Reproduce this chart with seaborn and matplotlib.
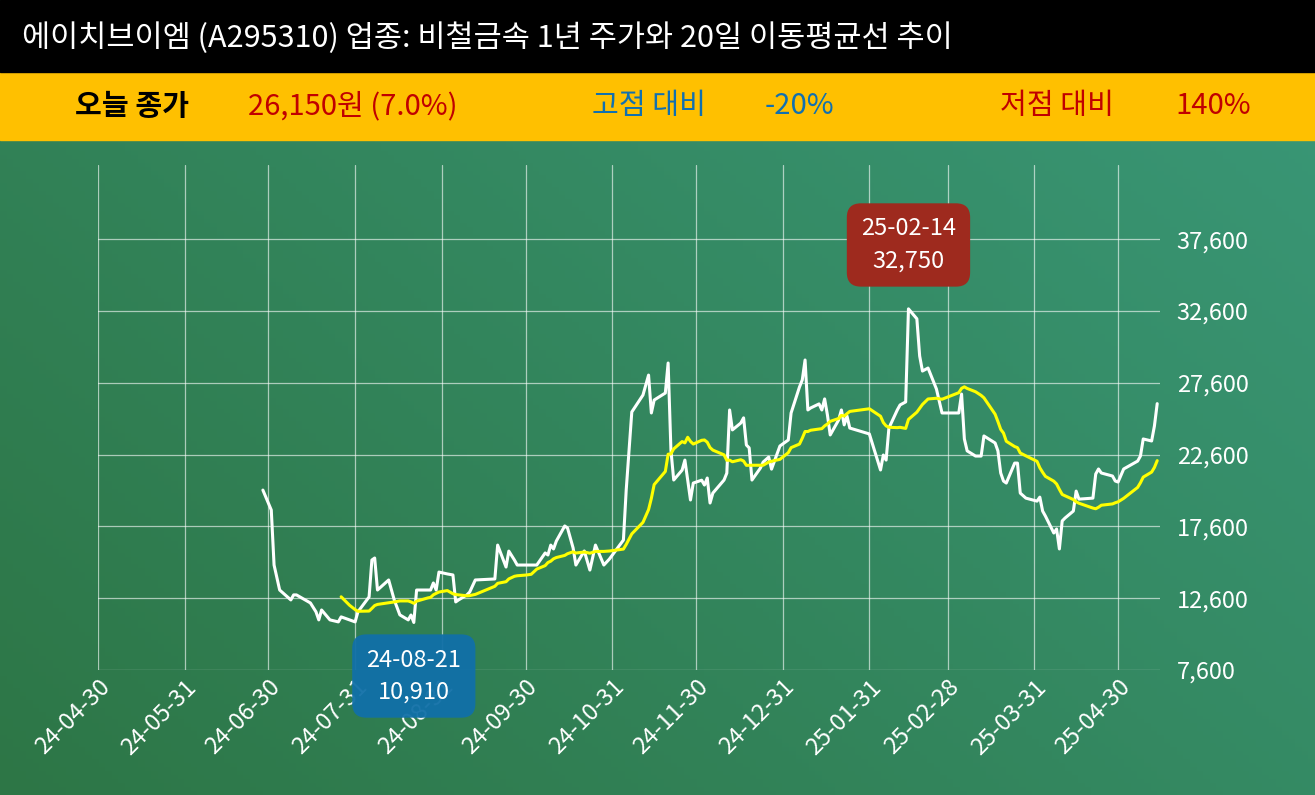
import numpy as np
import pandas as pd
import matplotlib.pyplot as plt
import matplotlib.dates as mdates
import seaborn as sns

sns.set_theme(style="white")
plt.rcParams['font.family'] = ['Noto Sans CJK KR', 'DejaVu Sans']

title = "에이치브이엠 (A295310) 업종: 비철금속 1년 주가와 20일 이동평균선 추이"

price_dates = [
    "2024-06-28", "2024-07-01", "2024-07-02", "2024-07-04", "2024-07-08", "2024-07-09", "2024-07-10",
    "2024-07-15", "2024-07-17", "2024-07-18", "2024-07-19", "2024-07-22", "2024-07-25", "2024-07-26",
    "2024-07-29", "2024-07-31", "2024-08-01", "2024-08-05", "2024-08-06", "2024-08-07", "2024-08-08",
    "2024-08-12", "2024-08-14", "2024-08-16", "2024-08-19", "2024-08-20", "2024-08-21", "2024-08-22",
    "2024-08-26", "2024-08-27", "2024-08-28", "2024-08-29", "2024-08-30", "2024-09-02", "2024-09-04",
    "2024-09-05", "2024-09-06", "2024-09-09", "2024-09-10", "2024-09-12", "2024-09-19", "2024-09-20",
    "2024-09-23", "2024-09-24", "2024-09-26", "2024-09-27", "2024-09-30", "2024-10-02", "2024-10-04",
    "2024-10-07", "2024-10-08", "2024-10-09", "2024-10-10", "2024-10-11", "2024-10-14", "2024-10-15",
    "2024-10-17", "2024-10-18", "2024-10-21", "2024-10-23", "2024-10-25", "2024-10-28", "2024-10-30",
    "2024-11-04", "2024-11-05", "2024-11-07", "2024-11-11", "2024-11-13", "2024-11-14", "2024-11-15",
    "2024-11-19", "2024-11-20", "2024-11-21", "2024-11-22", "2024-11-25", "2024-11-26", "2024-11-27",
    "2024-11-28", "2024-11-29", "2024-12-02", "2024-12-03", "2024-12-04", "2024-12-05", "2024-12-06",
    "2024-12-10", "2024-12-11", "2024-12-12", "2024-12-13", "2024-12-16", "2024-12-17", "2024-12-18",
    "2024-12-19", "2024-12-20", "2024-12-23", "2024-12-24", "2024-12-26", "2024-12-27", "2024-12-30",
    "2025-01-02", "2025-01-03", "2025-01-06", "2025-01-07", "2025-01-08", "2025-01-09", "2025-01-10",
    "2025-01-13", "2025-01-14", "2025-01-15", "2025-01-16", "2025-01-17", "2025-01-20", "2025-01-21",
    "2025-01-22", "2025-01-23", "2025-01-24", "2025-01-31", "2025-02-04", "2025-02-05", "2025-02-06",
    "2025-02-07", "2025-02-10", "2025-02-11", "2025-02-13", "2025-02-14", "2025-02-17", "2025-02-18",
    "2025-02-19", "2025-02-21", "2025-02-24", "2025-02-26", "2025-03-04", "2025-03-05", "2025-03-06",
    "2025-03-07", "2025-03-10", "2025-03-12", "2025-03-13", "2025-03-17", "2025-03-18", "2025-03-19",
    "2025-03-20", "2025-03-21", "2025-03-24", "2025-03-25", "2025-03-26", "2025-03-28", "2025-04-01",
    "2025-04-02", "2025-04-03", "2025-04-04", "2025-04-07", "2025-04-08", "2025-04-09", "2025-04-10",
    "2025-04-11", "2025-04-14", "2025-04-15", "2025-04-16", "2025-04-21", "2025-04-22", "2025-04-23",
    "2025-04-24", "2025-04-28", "2025-04-29", "2025-04-30", "2025-05-02", "2025-05-07", "2025-05-08",
    "2025-05-09", "2025-05-12", "2025-05-13", "2025-05-14",
]
prices = [
    20130, 18740, 14910, 13170, 12480, 12830, 12830,
    12270, 11650, 11090, 11780, 11090, 10950, 11300,
    11090, 10950, 11650, 12690, 15260, 15400, 13170,
    13870, 12480, 11440, 11090, 11430, 10910, 13170,
    13170, 13170, 13660, 13170, 14420, 14290, 14220,
    12340, 12480, 12830, 13030, 13870, 13940, 16300,
    14770, 15880, 15260, 14910, 14910, 14910, 14910,
    15750, 15610, 16300, 16030, 16580, 17630, 17490,
    16100, 14910, 15890, 14560, 16300, 14910, 15330,
    16650, 20130, 25570, 26750, 28140, 25500, 26400,
    26890, 28980, 22920, 20830, 21520, 22220, 20820,
    19440, 20620, 20820, 20480, 20970, 19230, 19920,
    20830, 21310, 25710, 24320, 24800, 25160, 23270,
    23070, 20830, 21660, 22080, 22430, 21590, 23200,
    23620, 25500, 27310, 27800, 29190, 25710, 25850,
    26130, 25710, 26480, 25360, 23970, 25010, 25710,
    24670, 25290, 24450, 24040, 21530, 22570, 22220,
    24450, 25710, 26060, 26270, 32750, 32060, 29470,
    28420, 28630, 27170, 25500, 25500, 26820, 23690,
    22860, 22500, 22500, 23900, 23410, 22860, 21320,
    20760, 20620, 22010, 22010, 19920, 19570, 19360,
    19640, 18670, 18320, 17140, 17420, 16030, 17980,
    18180, 18670, 20060, 19500, 19570, 21250, 21600,
    21320, 21110, 20760, 20690, 21600, 22150, 22500,
    23690, 23550, 24590, 26150,
]

tick_dates = ["2024-04-30", "2024-05-31", "2024-06-30", "2024-07-31", "2024-08-31", "2024-09-30",
              "2024-10-31", "2024-11-30", "2024-12-31", "2025-01-31", "2025-02-28", "2025-03-31",
              "2025-04-30"]
y_ticks = [7600, 12600, 17600, 22600, 27600, 32600, 37600]

df = pd.DataFrame({"date": pd.to_datetime(price_dates), "price": prices})
ma = df.set_index("date")["price"].rolling("28D").mean()
ma[ma.index < pd.Timestamp("2024-07-26")] = np.nan
df["ma20"] = ma.values

W, H = 1315, 795
fig = plt.figure(figsize=(W / 100, H / 100), dpi=100)
fig.patch.set_facecolor("white")

# gradient background
bg = fig.add_axes([0, 0, 1, 1], zorder=0)
bg.set_axis_off()
gx, gy = np.meshgrid(np.linspace(0, 1, 200), np.linspace(0, 1, 200))
t = (gx * 0.6 + gy * 0.4)
c0 = np.array([0x2D, 0x76, 0x46]) / 255
c1 = np.array([0x3A, 0x98, 0x78]) / 255
img = c0[None, None, :] * (1 - t[..., None]) + c1[None, None, :] * t[..., None]
bg.imshow(img, origin="lower", extent=[0, 1, 0, 1], aspect="auto")
bg.set_xlim(0, 1)
bg.set_ylim(0, 1)
bg.add_patch(plt.Rectangle((0, 1 - 140 / H), 1, 68 / H, color="#FFC000", zorder=2))
bg.add_patch(plt.Rectangle((0, 1 - 72 / H), 1, 72 / H, color="black", zorder=2))

fig.text(22 / W, 1 - 38 / H, title, color="white", fontsize=22, va="center", ha="left")
row_y = 1 - 106 / H
for x, s, c in [(75, "오늘 종가", "black"), (248, "26,150원 (7.0%)", "#C00000"),
                (592, "고점 대비", "#1170B0"), (765, "-20%", "#1170B0"),
                (1000, "저점 대비", "#C00000"), (1175, "140%", "#C00000")]:
    fig.text(x / W, row_y, s, color=c, fontsize=21, va="center", ha="left",
             fontweight="bold" if c == "black" else "normal")

ax = fig.add_axes([98 / W, 1 - 670 / H, 1062 / W, 505 / H], zorder=1)
ax.patch.set_alpha(0)
sns.lineplot(data=df, x="date", y="price", ax=ax, color="white", linewidth=2.2)
sns.lineplot(data=df, x="date", y="ma20", ax=ax, color="#FFFF00", linewidth=2.2)
ax.set_xlim(pd.Timestamp("2024-04-30"), pd.Timestamp("2025-05-15"))
ax.set_ylim(7600, 42770)
ax.set_xticks(pd.to_datetime(tick_dates))
ax.xaxis.set_major_formatter(mdates.DateFormatter("%y-%m-%d"))
ax.set_yticks(y_ticks)
ax.set_yticklabels([f"{v:,}" for v in y_ticks])
ax.yaxis.tick_right()
ax.grid(True, color="white", alpha=0.6, linewidth=0.9)
for s in ax.spines.values():
    s.set_visible(False)
ax.tick_params(axis="y", colors="white", labelsize=17, length=0, pad=12)
ax.tick_params(axis="x", colors="white", labelsize=17, length=0, pad=4)
for lab in ax.get_xticklabels():
    lab.set_rotation(45)
    lab.set_ha("right")
    lab.set_rotation_mode("anchor")
ax.set_xlabel("")
ax.set_ylabel("")

ax.text(pd.Timestamp("2025-02-14"), 37200, "25-02-14\n32,750", color="white", fontsize=17,
        ha="center", va="center", linespacing=1.5,
        bbox=dict(boxstyle="round,pad=0.6,rounding_size=0.6", fc="#9E2A1E", ec="none"))
ax.text(pd.Timestamp("2024-08-21"), 7180, "24-08-21\n10,910", color="white", fontsize=17,
        ha="center", va="center", linespacing=1.5, clip_on=False, zorder=5,
        bbox=dict(boxstyle="round,pad=0.6,rounding_size=0.6", fc="#1170A8", ec="none", alpha=0.95))

fig.savefig("out.png", dpi=100)
